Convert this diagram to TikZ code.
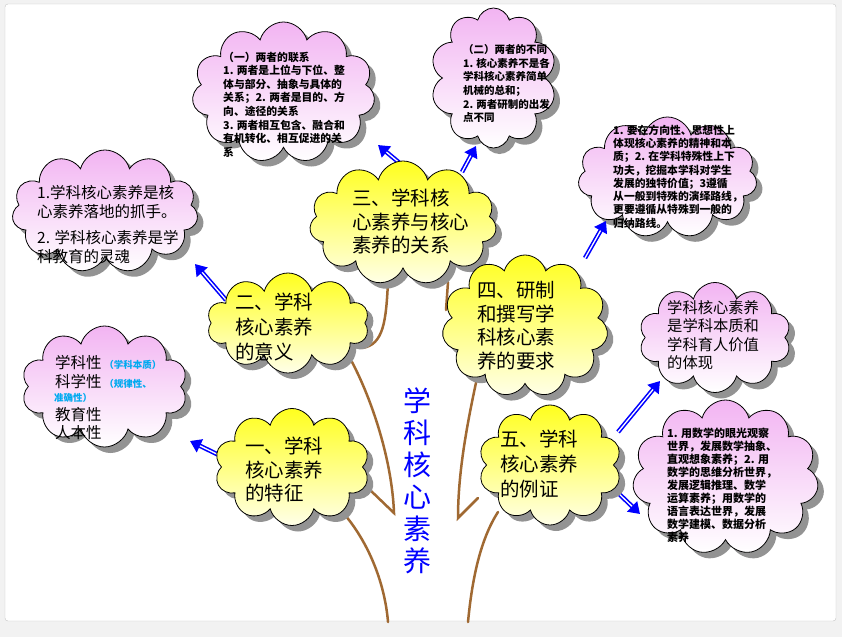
\documentclass[tikz,border=0pt]{standalone}
\usepackage{fontspec}
\setmainfont{Noto Sans CJK SC}
\usetikzlibrary{shapes.symbols,shadows,arrows.meta}
\definecolor{pinktop}{RGB}{242,180,242}
\definecolor{yeltop}{RGB}{255,255,30}
\definecolor{yelbot}{RGB}{255,255,232}
\definecolor{brownc}{RGB}{160,105,50}
\definecolor{arrowblue}{RGB}{0,0,255}
\definecolor{noteblue}{RGB}{0,170,240}
\newcommand\bluearrow[2]{%
  \draw[arrowblue, line width=4.5pt, -{Triangle[length=11pt,width=14pt]}] (#1) -- (#2);
  \draw[white, line width=1.3pt, shorten >=11pt] (#1) -- (#2);}
\tikzset{
  cloudbase/.style={cloud, cloud ignores aspect, draw=black, line width=0.8pt, inner sep=0pt,
    drop shadow={shadow xshift=6pt, shadow yshift=-6pt, fill=gray!85, opacity=1}},
  pinkcloud/.style={cloudbase, top color=pinktop, bottom color=white},
  yelcloud/.style={cloudbase, top color=yeltop, bottom color=yelbot},
  branch/.style={draw=brownc, line width=2.5pt, line cap=round},
  bigtext/.style={anchor=north west, inner sep=0pt, align=left, font=\fontsize{19.5}{23.5}\selectfont},
  smalltext/.style={anchor=north west, inner sep=0pt, align=left, font=\bfseries\fontsize{10.8}{13.6}\selectfont},
  midtext/.style={anchor=north west, inner sep=0pt, align=left, font=\fontsize{15.5}{19.5}\selectfont},
  notetext/.style={text=noteblue, font=\bfseries\fontsize{9.5}{11}\selectfont},
}
\begin{document}
\begin{tikzpicture}[x=1pt,y=-1pt]
\useasboundingbox (0,0) rectangle (842,637);
\fill[gray!10] (0,0) rectangle (842,637);
\filldraw[fill=white, draw=gray!45, rounded corners=3pt] (5,4) rectangle (836,621);

% branches
\draw[branch] (388,622) .. controls (385,585) and (370,545) .. (345,515);
\draw[branch] (352,362) .. controls (372,400) and (392,460) .. (394,513) -- (368,488);
\draw[branch] (388,282) .. controls (386,320) and (384,345) .. (362,348);
\draw[branch] (468,622) .. controls (472,580) and (480,540) .. (498,512);
\draw[branch] (477,378) .. controls (468,420) and (458,470) .. (458,518) -- (478,498);
\draw[branch] (448,282) -- (446,310);

% pink clouds
\node[pinkcloud, cloud puffs=11, minimum width=183pt, minimum height=141pt] (p1) at (283.5,92.5) {};
\node[pinkcloud, cloud puffs=10, minimum width=126pt, minimum height=140pt] (p2) at (493.5,78) {};
\node[pinkcloud, cloud puffs=11, minimum width=179pt, minimum height=121pt] (p3) at (667.5,177.5) {};
\node[pinkcloud, cloud puffs=11, minimum width=186pt, minimum height=123pt] (p4) at (105,211.5) {};
\node[pinkcloud, cloud puffs=10, minimum width=166pt, minimum height=121pt] (p5) at (104.5,386.5) {};
\node[pinkcloud, cloud puffs=10, minimum width=152pt, minimum height=110pt] (p6) at (715,337.5) {};
\node[pinkcloud, cloud puffs=11, minimum width=186pt, minimum height=155pt] (p7) at (725.5,477.5) {};

% arrow ends
\coordinate (a1s) at (408,170); \coordinate (a1e) at (378,145);
\coordinate (a2s) at (462,172); \coordinate (a2e) at (476,146);
\coordinate (a3s) at (226,300); \coordinate (a3e) at (195,264);
\coordinate (a4s) at (225,458); \coordinate (a4e) at (190,441);
\coordinate (a5s) at (585,258); \coordinate (a5e) at (606,221);
\coordinate (a6s) at (618,432); \coordinate (a6e) at (660,381);
\coordinate (a7s) at (615,490); \coordinate (a7e) at (640,514);
\bluearrow{a1s}{a1e}
\bluearrow{a2s}{a2e}
\bluearrow{a3s}{a3e}
\bluearrow{a4s}{a4e}
\bluearrow{a5s}{a5e}
\bluearrow{a6s}{a6e}
\bluearrow{a7s}{a7e}

% yellow clouds
\node[yelcloud, cloud puffs=11, minimum width=187pt, minimum height=124pt] (y3) at (403,223) {};
\node[yelcloud, cloud puffs=10, minimum width=162pt, minimum height=100pt] (y2) at (288,323) {};
\node[yelcloud, cloud puffs=10, minimum width=155pt, minimum height=117pt] (y1) at (292,467) {};
\node[yelcloud, cloud puffs=11, minimum width=166pt, minimum height=142pt] (y4) at (525,326) {};
\node[yelcloud, cloud puffs=10, minimum width=143pt, minimum height=120pt] (y5) at (550,465) {};

% big texts
\node[bigtext] (t3) at (352,189) {三、学科核\\心素养与核心\\素养的关系};
\node[bigtext, font=\fontsize{19.5}{25}\selectfont] (t2) at (235,293) {二、学科\\核心素养\\的意义};
\node[bigtext] (t1) at (245,437) {一、学科\\核心素养\\的特征};
\node[bigtext] (t4) at (477,281) {四、研制\\和撰写学\\科核心素\\养的要求};
\node[bigtext, font=\fontsize{19.5}{25}\selectfont] (t5) at (500,430) {五、学科\\核心素养\\的例证};
\node[anchor=north, inner sep=0pt, align=center, text=arrowblue, font=\fontsize{28}{32}\selectfont] (title) at (417,388) {学\\科\\核\\心\\素\\养};

% small texts
\node[smalltext] (s1) at (223,51.5) {（一）两者的联系\\1. 两者是上位与下位、整\\体与部分、抽象与具体的\\关系；2. 两者是目的、方\\向、途径的关系\\3. 两者相互包含、融合和\\有机转化、相互促进的关\\系};
\node[smalltext, font=\bfseries\fontsize{10.5}{13.6}\selectfont] (s2) at (463,44.5) {（二）两者的不同\\1. 核心素养不是各\\学科核心素养简单\\机械的总和；\\2. 两者研制的出发\\点不同};
\node[smalltext, font=\bfseries\fontsize{10.8}{13.3}\selectfont] (s3) at (613,124.5) {1. 要在方向性、思想性上\\体现核心素养的精神和本\\质；2. 在学科特殊性上下\\功夫，挖掘本学科对学生\\发展的独特价值；3遵循\\从一般到特殊的演绎路线，\\更要遵循从特殊到一般的\\归纳路线。};
\node[midtext] (s4) at (37,185) {1.学科核心素养是核\\心素养落地的抓手。\\[6pt]2. 学科核心素养是学\\科教育的灵魂};
\node[midtext, font=\fontsize{15.5}{10}\selectfont] (s5a) at (55,355.5) {学科性\,{\color{noteblue}\bfseries\fontsize{9.5}{11}\selectfont（学科本质）}};
\node[midtext, font=\fontsize{15.5}{10}\selectfont] (s5b) at (55,374.5) {科学性\,{\color{noteblue}\bfseries\fontsize{9.5}{11}\selectfont（规律性、}};
\node[anchor=north west, inner sep=0pt, notetext] (s5c) at (54,393) {准确性）};
\node[midtext] (s5d) at (55,407.5) {教育性};
\node[midtext] (s5e) at (55,425.5) {人本性};
\node[midtext, font=\fontsize{15.3}{18.5}\selectfont] (s6) at (667,300.3) {学科核心素养\\是学科本质和\\学科育人价值\\的体现};
\node[smalltext, font=\bfseries\fontsize{11}{13}\selectfont] (s7) at (667,427.5) {1. 用数学的眼光观察\\世界，发展数学抽象、\\直观想象素养；2. 用\\数学的思维分析世界，\\发展逻辑推理、数学\\运算素养；用数学的\\语言表达世界，发展\\数学建模、数据分析\\素养};
\end{tikzpicture}
\end{document}
